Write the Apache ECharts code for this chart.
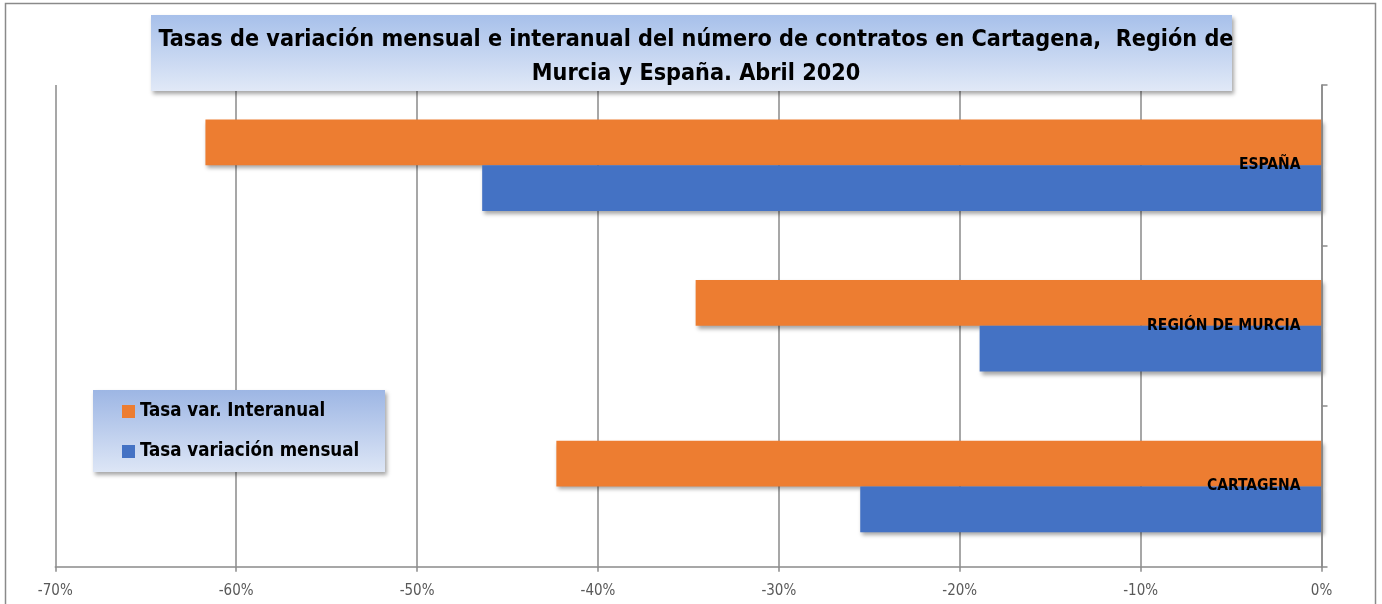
<!DOCTYPE html>
<html>
<head>
<meta charset="utf-8">
<script src="https://cdn.jsdelivr.net/npm/echarts@6/dist/echarts.min.js"></script>
<style>
  html, body { margin: 0; padding: 0; background: #fff; }
  #chart { width: 1382px; height: 604px; }
</style>
</head>
<body>
<div id="chart"></div>
<script>
// categorias (de abajo arriba, como en Excel)
var categorias = ["CARTAGENA", "REGIÓN DE MURCIA", "ESPAÑA"];
// tasas en %
var interanual = [-42.3, -34.6, -61.7];
var mensual = [-25.5, -18.9, -46.4];
var ejeX = { min: -70, max: 0, step: 10 };

var fuente = "'Liberation Sans Narrow', 'DejaVu Sans Condensed', sans-serif";
var gris = "#8a8a8a";

var myChart = echarts.init(document.getElementById("chart"));

function degradado(arriba, abajo) {
  return new echarts.graphic.LinearGradient(0, 0, 0, 1, [
    { offset: 0, color: arriba },
    { offset: 1, color: abajo },
  ]);
}

var sombra = {
  shadowBlur: 4,
  shadowColor: "rgba(0,0,0,0.35)",
  shadowOffsetX: 2,
  shadowOffsetY: 3,
};

var option = {
  animation: false,
  textStyle: { fontFamily: fuente },
  title: {
    text: "Tasas de variación mensual e interanual del número de contratos en Cartagena,  Región de\nMurcia y España. Abril 2020",
    left: 691,
    textAlign: "center",
    top: 18,
    z: 10,
    textStyle: {
      fontFamily: fuente,
      fontSize: 23.2,
      fontWeight: "bold",
      color: "#000",
      lineHeight: 34,
    },
  },
  graphic: [
    // borde del grafico
    {
      type: "rect",
      z: -1,
      shape: { x: 5.5, y: 3.5, width: 1370, height: 640 },
      style: { fill: "none", stroke: gris, lineWidth: 1.5 },
    },
    // caja del titulo
    {
      type: "rect",
      z: 5,
      shape: { x: 151, y: 15, width: 1081, height: 76 },
      style: Object.assign({ fill: degradado("#a7c0ea", "#e1e9f7") }, sombra),
    },
    // caja de la leyenda
    {
      type: "rect",
      z: 5,
      shape: { x: 93, y: 390, width: 292, height: 82 },
      style: Object.assign({ fill: degradado("#9db6e4", "#dde6f6") }, sombra),
    },
  ],
  legend: {
    data: ["Tasa var. Interanual", "Tasa variación mensual"],
    orient: "vertical",
    left: 117,
    top: 397,
    itemGap: 21,
    itemWidth: 13,
    itemHeight: 13,
    icon: "rect",
    z: 10,
    textStyle: {
      fontFamily: fuente,
      fontSize: 18.6,
      fontWeight: "bold",
      color: "#000",
    },
  },
  grid: {
    left: 55.3,
    right: 60.5,
    top: 85,
    bottom: 37.3,
  },
  xAxis: {
    type: "value",
    min: ejeX.min,
    max: ejeX.max,
    interval: ejeX.step,
    axisLine: { show: true, lineStyle: { color: gris, width: 1.5 } },
    axisTick: { show: true, length: 5, lineStyle: { color: gris, width: 1.5 } },
    splitLine: { show: true, lineStyle: { color: gris, width: 1.5 } },
    axisLabel: {
      color: "#595959",
      fontSize: 15,
      margin: 17,
      fontFamily: fuente,
      formatter: function (v) {
        return v + "%";
      },
    },
  },
  yAxis: {
    type: "category",
    data: categorias,
    position: "right",
    z: 10,
    axisLine: { show: true, onZero: false, lineStyle: { color: gris, width: 1.5 } },
    axisTick: { show: true, length: 6, lineStyle: { color: gris, width: 1.5 } },
    axisLabel: {
      inside: true,
      margin: 21,
      color: "#000",
      fontSize: 15.5,
      fontWeight: "bold",
      fontFamily: fuente,
    },
  },
  series: [
    {
      name: "Tasa var. Interanual",
      type: "bar",
      data: interanual,
      barGap: "0%",
      barCategoryGap: "43%",
      itemStyle: Object.assign({ color: "#ed7d31" }, sombra),
    },
    {
      name: "Tasa variación mensual",
      type: "bar",
      data: mensual,
      barGap: "0%",
      barCategoryGap: "43%",
      itemStyle: Object.assign({ color: "#4472c4" }, sombra),
    },
  ],
};

myChart.setOption(option);
</script>
</body>
</html>
